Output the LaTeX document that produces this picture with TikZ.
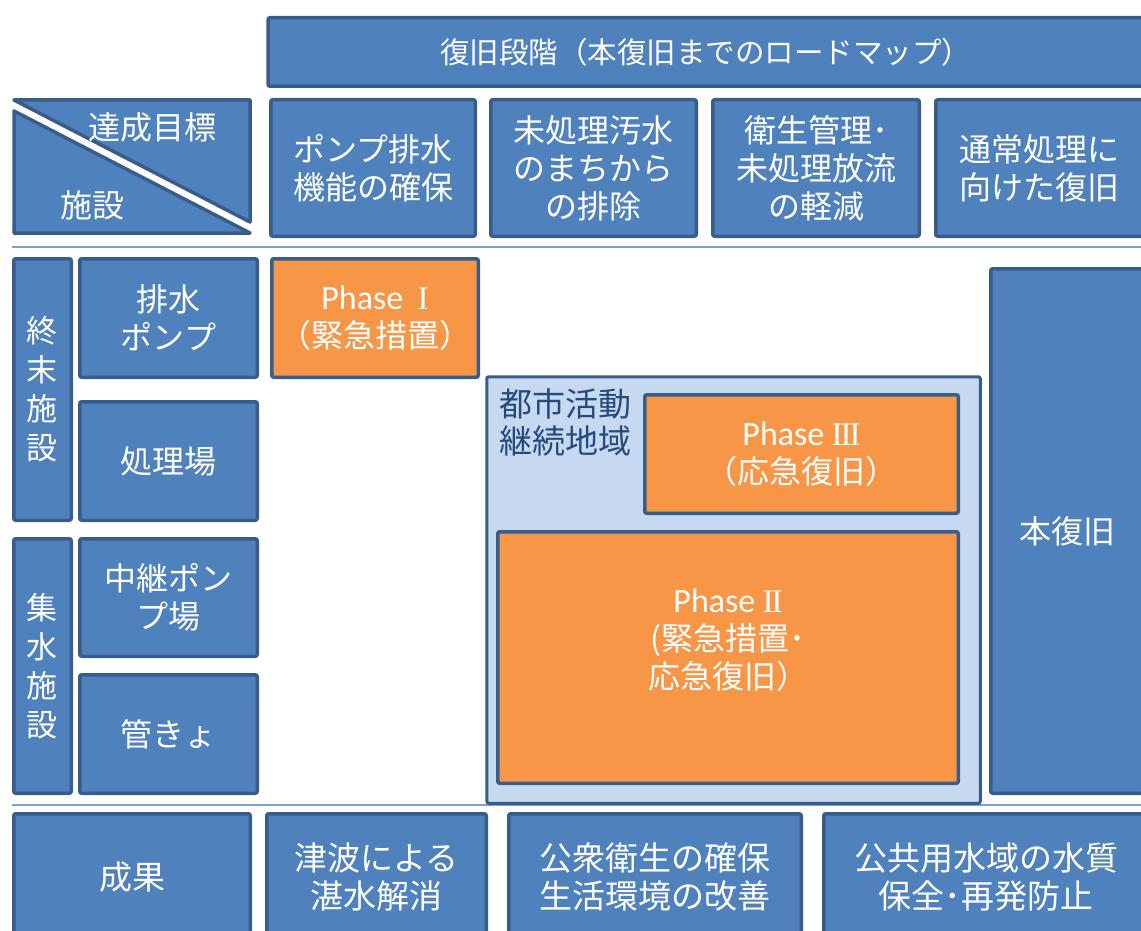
\documentclass[tikz,border=0pt]{standalone}
\usepackage{fontspec}
\setmainfont{Noto Sans CJK JP}
\newfontfamily\latf{Carlito}
\newfontfamily\romf{Liberation Serif}
\definecolor{bfill}{HTML}{4F81BD}
\definecolor{bdraw}{HTML}{385D8A}
\definecolor{ofill}{HTML}{F79646}
\definecolor{rfill}{HTML}{C6D9F1}
\definecolor{sepc}{HTML}{7DA0CF}
\definecolor{rtext}{HTML}{254B7C}
\newcommand\fsmain{\fontsize{32}{38}\selectfont}
\newcommand\fsbot{\fontsize{33}{38}\selectfont}
\newcommand\fsvert{\fontsize{31}{39}\selectfont}
\newcommand\fsban{\fontsize{29.5}{36}\selectfont}
\newcommand\ph{{\latf\fontsize{34}{38}\selectfont Phase}}
\newcommand\rmn[1]{{\romf\fontsize{33}{38}\selectfont #1}}
\tikzset{
  bbox/.style={draw=bdraw, line width=3.5pt, rounded corners=2pt, fill=bfill,
    text=white, align=center, font=\fsmain, inner sep=0pt},
  botbox/.style={bbox, font=\fsbot},
  obox/.style={bbox, fill=ofill},
  rbox/.style={draw=bdraw, line width=3pt, rounded corners=2pt, fill=rfill, inner sep=0pt},
  sepline/.style={draw=sepc, line width=2pt},
  tri/.style={draw=bdraw, line width=3.5pt, fill=bfill, line join=round},
  wt/.style={text=white, font=\fsmain, inner sep=0pt}
}
\begin{document}
\begin{tikzpicture}[x=1pt,y=-1pt]
\useasboundingbox (0,0) rectangle (1141,931);
\clip (0,0) rectangle (1141,931);
% top banner
\node[bbox, font=\fsban, minimum width=875pt, minimum height=68.5pt] (ban) at (705.5,52) {復旧段階（本復旧までのロードマップ）};
% diagonal header
\draw[tri] (14,100) -- (250,100) -- (250,222) -- cycle;
\draw[tri] (14,111) -- (250,233) -- (14,233) -- cycle;
\node[wt] (goal) at (152,127) {達成目標};
\node[wt] (fac) at (92,205) {施設};
% header row
\node[bbox, minimum width=204.5pt, minimum height=136.5pt] (h1) at (373,168) {ポンプ排水\\機能の確保};
\node[bbox, minimum width=205.5pt, minimum height=136.5pt] (h2) at (593.5,168) {未処理汚水\\のまちから\\の排除};
\node[bbox, minimum width=206.5pt, minimum height=136.5pt] (h3) at (816,168) {衛生管理･\\未処理放流\\の軽減};
\node[bbox, minimum width=207.5pt, minimum height=136.5pt] (h4) at (1039.5,168) {通常処理に\\向けた復旧};
% separators
\coordinate (s1a) at (12,246.5); \coordinate (s1b) at (1141,246.5);
\coordinate (s2a) at (12,805); \coordinate (s2b) at (1141,805);
\draw[sepline] (s1a) -- (s1b);
\draw[sepline] (s2a) -- (s2b);
% left column
\node[bbox, font=\fsvert, minimum width=57.5pt, minimum height=261.5pt] (shumatsu) at (42.5,389.5) {終\\末\\施\\設};
\node[bbox, minimum width=177.5pt, minimum height=118.5pt] (haisui) at (168.5,318) {排水\\ポンプ};
\node[bbox, minimum width=177.5pt, minimum height=118.5pt] (shorijo) at (168.5,461) {処理場};
\node[bbox, font=\fsvert, minimum width=57.5pt, minimum height=254.5pt] (shusui) at (42.5,666) {集\\水\\施\\設};
\node[bbox, minimum width=177.5pt, minimum height=117.5pt] (chukei) at (168.5,597.5) {中継ポン\\プ場};
\node[bbox, minimum width=177.5pt, minimum height=118.5pt] (kankyo) at (168.5,734) {管きょ};
% phase I
\node[obox, minimum width=206.5pt, minimum height=118.5pt] (ph1) at (375,318) {\ph\ \ \rmn{I}\\（緊急措置）};
% region
\node[rbox, minimum width=493.5pt, minimum height=426.5pt] (region) at (733.5,590) {};
\node[anchor=west, align=left, text=rtext, font=\fontsize{33}{37}\selectfont, inner sep=0pt] (regtxt) at (499,422.5) {都市活動\\継続地域};
\node[obox, minimum width=313.5pt, minimum height=118.5pt] (ph3) at (801.5,454) {\ph\ \rmn{I\kern-0.06em I\kern-0.06em I}\\（応急復旧）};
\node[obox, minimum width=460.5pt, minimum height=251.5pt] (ph2) at (728,657.5) {\ph\ \rmn{I\kern-0.06em I}\\(緊急措置･\\応急復旧）\\\mbox{}};
% main recovery
\node[bbox, minimum width=152.5pt, minimum height=524.5pt] (hon) at (1067,531) {本復旧};
% bottom row
\node[botbox, minimum width=236.5pt, minimum height=126.5pt] (b1) at (132,877) {成果};
\node[botbox, minimum width=219.5pt, minimum height=126.5pt] (b2) at (376.5,877) {津波による\\湛水解消};
\node[botbox, minimum width=292.5pt, minimum height=126.5pt] (b3) at (655,877) {公衆衛生の確保\\生活環境の改善};
\node[botbox, minimum width=324.5pt, minimum height=126.5pt] (b4) at (986,877) {公共用水域の水質\\保全･再発防止};
\end{tikzpicture}
\end{document}
